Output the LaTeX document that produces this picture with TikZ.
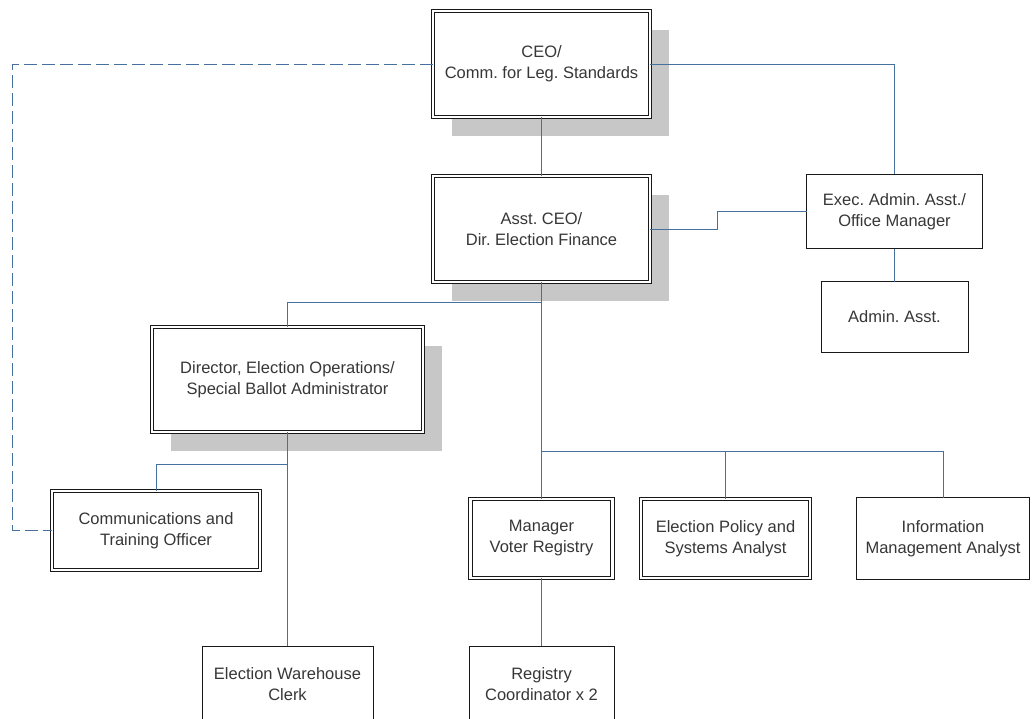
\documentclass[tikz,border=0pt]{standalone}
\usepackage{fontspec}
\setmainfont{Liberation Sans}
\usepackage{tikz}
\usetikzlibrary{shadows}

\definecolor{linkblue}{RGB}{70,112,158}
\definecolor{boxtext}{RGB}{55,55,55}
\definecolor{boxline}{RGB}{25,25,25}
\frenchspacing

\begin{document}
\begin{tikzpicture}[x=1pt, y=-1pt]
\tikzset{inner sep=0pt, outer sep=0pt}
\tikzset{
  unit/.style={draw=boxline, fill=white, line width=0.9pt, align=center,
    text=boxtext, font=\fontsize{16.5}{21}\selectfont},
  doubleunit/.style={unit, line width=1pt, double=white, double distance=2.2pt},
  shadowunit/.style={doubleunit, drop shadow={shadow xshift=19pt, shadow yshift=-19pt, fill=black!22, opacity=1}},
  link/.style={draw=linkblue, line width=0.9pt},
  dottedlink/.style={link, dash pattern=on 13pt off 5pt}
}

\useasboundingbox (0,0) rectangle (1032,719);

% top of the chart
\node [shadowunit, minimum width=217, minimum height=106] (ceo) at (541.5,64) {CEO/\\Comm. for Leg. Standards};
\node [shadowunit, minimum width=217, minimum height=106] (asstceo) at (541.5,229) {Asst. CEO/\\Dir. Election Finance};
\node [unit, minimum width=176, minimum height=74] (execasst) at (894.5,211.5) {Exec. Admin. Asst./\\Office Manager};
\node [unit, minimum width=147, minimum height=71] (adminasst) at (894.5,317) {Admin. Asst.};

% operations branch
\node [shadowunit, minimum width=271, minimum height=105] (dirops) at (287.5,379.5) {Director, Election Operations/\\Special Ballot Administrator};
\node [doubleunit, minimum width=208, minimum height=79] (commoff) at (156,530.5) {Communications and\\Training Officer};
\node [unit, minimum width=171, minimum height=76] (warehouse) at (287.5,684) {Election Warehouse\\Clerk};

% registry branch
\node [doubleunit, minimum width=142, minimum height=79] (mgrvoter) at (541.5,538.5) {Manager\\Voter Registry};
\node [doubleunit, minimum width=169, minimum height=79] (policy) at (725.5,538.5) {Election Policy and\\Systems Analyst};
\node [unit, minimum width=173, minimum height=82] (infomgmt) at (943,538.5) {Information\\Management Analyst};
\node [unit, minimum width=145, minimum height=76] (regcoord) at (541.5,684) {Registry\\Coordinator x 2};

\coordinate (jog) at (717,229);
\coordinate (opsbus) at (541.5,302);
\coordinate (regbus) at (541.5,451);
\coordinate (commbus) at (287.5,464);
\coordinate (dashcorner) at (12,530.5);

\draw [link] (ceo.south) -- (asstceo.north);
\draw [link] (ceo.east) -| (execasst.north);
\draw [link] (asstceo.east) -- (jog) |- (execasst.west);
\draw [link] (execasst.south) -- (adminasst.north);

\draw [link] (asstceo.south) -- (mgrvoter.north);
\draw [link] (opsbus) -| (dirops.north);
\draw [link] (regbus) -| (policy.north);
\draw [link] (regbus) -| (infomgmt.north);
\draw [link] (mgrvoter.south) -- (regcoord.north);

\draw [link] (dirops.south) -- (warehouse.north);
\draw [link] (commbus) -| (commoff.north);

\draw [dottedlink] (ceo.west) -| (dashcorner) -- (commoff.west);

\end{tikzpicture}
\end{document}
